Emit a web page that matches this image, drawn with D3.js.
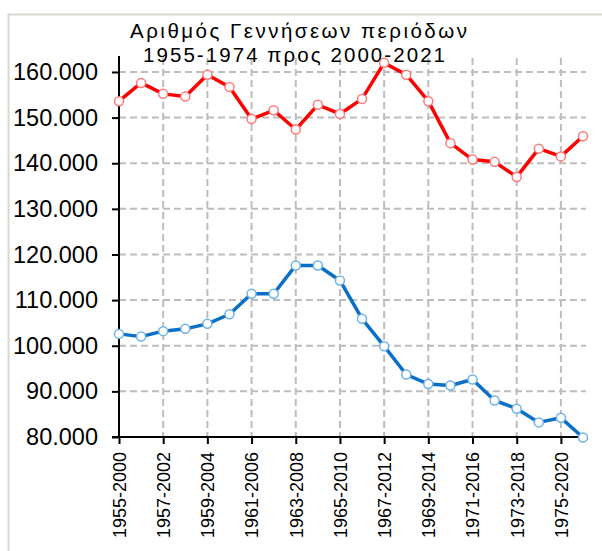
<!DOCTYPE html>
<html>
<head>
<meta charset="utf-8">
<script src="https://cdn.jsdelivr.net/npm/d3@7"></script>
<style>
  body { margin: 0; background: #fff; }
  text { font-family: "Liberation Sans", Arial, sans-serif; }
</style>
</head>
<body>
<div id="chart"></div>
<script>
(function() {
  'use strict';

  var width = 602;
  var height = 551;

  var periods = [
    "1955-2000", "1956-2001", "1957-2002", "1958-2003", "1959-2004", "1960-2005",
    "1961-2006", "1962-2007", "1963-2008", "1964-2009", "1965-2010", "1966-2011",
    "1967-2012", "1968-2013", "1969-2014", "1970-2015", "1971-2016", "1972-2017",
    "1973-2018", "1974-2019", "1975-2020", "1976-2021"
  ];

  // births 1955-1976 (red)
  var birthsOld = [
    153600, 157600, 155200, 154600, 159400, 156700, 149700, 151600, 147400, 152800, 150800,
    154100, 162000, 159400, 153600, 144400, 140800, 140300, 137000, 143200, 141500, 145900
  ];

  // births 2000-2021 (blue)
  var birthsNew = [
    102600, 102000, 103200, 103700, 104800, 106900, 111400, 111400, 117600, 117600, 114300,
    105900, 99900, 93700, 91600, 91300, 92600, 88000, 86200, 83200, 84200, 79900
  ];

  var yTicks = [80000, 90000, 100000, 110000, 120000, 130000, 140000, 150000, 160000];

  var titleLines = ["Αριθμός Γεννήσεων  περιόδων", "1955-1974  προς 2000-2021"];

  var greek = d3.formatLocale({
    decimal: ",",
    thousands: ".",
    grouping: [3],
    currency: ["", "€"]
  });

  var svg = d3.select("#chart")
    .append("svg")
    .attr("width", width)
    .attr("height", height);

  // outer frame
  svg.append("rect")
    .attr("x", 8.5)
    .attr("y", 14.5)
    .attr("width", 700)
    .attr("height", 700)
    .attr("fill", "none")
    .attr("stroke", "#d8d8d0")
    .attr("stroke-width", 2);

  var x = d3.scalePoint()
    .domain(periods)
    .range([119, 583]);

  var y = d3.scaleLinear()
    .domain([80000, 163500])
    .range([437, 56]);

  var labelled = periods.filter(function (d, i) { return i % 2 === 0; });

  // grid
  var grid = svg.append("g")
    .attr("stroke", "#bdbdbd")
    .attr("stroke-width", 2)
    .attr("stroke-dasharray", "7,4");

  grid.selectAll("line.h")
    .data(yTicks.slice(1))
    .enter()
    .append("line")
    .attr("class", "h")
    .attr("x1", 119)
    .attr("x2", 586)
    .attr("y1", function (d) { return y(d); })
    .attr("y2", function (d) { return y(d); });

  grid.selectAll("line.v")
    .data(labelled.slice(1))
    .enter()
    .append("line")
    .attr("class", "v")
    .attr("x1", function (d) { return x(d); })
    .attr("x2", function (d) { return x(d); })
    .attr("y1", 58)
    .attr("y2", 437);

  // title
  svg.append("text")
    .attr("x", 130)
    .attr("y", 38)
    .attr("font-size", 20.5)
    .attr("textLength", 337)
    .attr("lengthAdjust", "spacing")
    .text(titleLines[0]);

  svg.append("text")
    .attr("x", 143)
    .attr("y", 62)
    .attr("font-size", 20.5)
    .attr("textLength", 302)
    .attr("lengthAdjust", "spacing")
    .text(titleLines[1]);

  // axes
  var yAxis = d3.axisLeft(y)
    .tickValues(yTicks)
    .tickSize(7)
    .tickSizeOuter(0)
    .tickPadding(14)
    .tickFormat(greek.format(",d"));

  var gy = svg.append("g")
    .attr("transform", "translate(119,0)")
    .call(yAxis);
  gy.select(".domain").remove();
  gy.selectAll(".tick line").attr("stroke", "#000").attr("stroke-width", 2);
  gy.selectAll("text")
    .attr("font-size", 23.5)
    .attr("font-family", "Liberation Sans, Arial, sans-serif")
    .attr("fill", "#000");

  var xAxis = d3.axisBottom(x)
    .tickValues(labelled)
    .tickSize(7)
    .tickSizeOuter(0);

  var gx = svg.append("g")
    .attr("transform", "translate(0,437)")
    .call(xAxis);
  gx.select(".domain").remove();
  gx.selectAll(".tick line").attr("stroke", "#000").attr("stroke-width", 2);
  gx.selectAll("text")
    .attr("font-size", 18)
    .attr("font-family", "Liberation Sans, Arial, sans-serif")
    .attr("fill", "#000")
    .attr("transform", "rotate(-90)")
    .attr("text-anchor", "end")
    .attr("x", -15)
    .attr("y", 0)
    .attr("dy", "0.35em");

  svg.append("line")
    .attr("x1", 119).attr("x2", 119)
    .attr("y1", 56).attr("y2", 438)
    .attr("stroke", "#000").attr("stroke-width", 2);

  svg.append("line")
    .attr("x1", 112).attr("x2", 582)
    .attr("y1", 437).attr("y2", 437)
    .attr("stroke", "#000").attr("stroke-width", 2);

  // series
  var series = [
    { values: birthsOld, line: "#ff0000", marker: "#ff7a7a" },
    { values: birthsNew, line: "#0a6fc6", marker: "#6db3ea" }
  ];

  var line = d3.line()
    .x(function (d, i) { return x(periods[i]); })
    .y(function (d) { return y(d); });

  series.forEach(function (s) {
    svg.append("path")
      .datum(s.values)
      .attr("fill", "none")
      .attr("stroke", s.line)
      .attr("stroke-width", 3.5)
      .attr("stroke-linejoin", "round")
      .attr("d", line);

    svg.append("g")
      .selectAll("circle")
      .data(s.values)
      .enter()
      .append("circle")
      .attr("cx", function (d, i) { return x(periods[i]); })
      .attr("cy", function (d) { return y(d); })
      .attr("r", 4.5)
      .attr("fill", "#fff")
      .attr("stroke", s.marker)
      .attr("stroke-width", 1.5);
  });
})();
</script>
</body>
</html>
